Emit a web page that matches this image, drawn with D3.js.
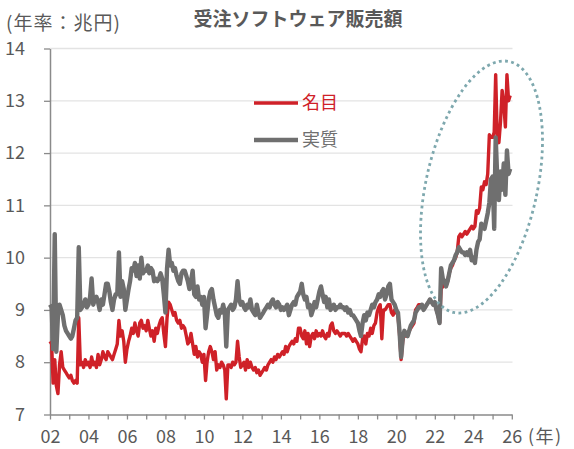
<!DOCTYPE html>
<html>
<head>
<meta charset="utf-8">
<script src="https://cdn.jsdelivr.net/npm/d3@7"></script>
<style>
  html, body { margin: 0; padding: 0; background: #fff; }
  text { font-family: "Noto Sans CJK JP", "Noto Sans", sans-serif; }
</style>
</head>
<body>
<svg width="574" height="449"></svg>
<script>
// 受注ソフトウェア販売額 (年率, 兆円), monthly from 2002-01
const startYear = 2002;

// 名目 — one row per year
const nominal = [
  8.4, 8.35, 7.6, 8.05, 7.55, 7.4, 7.95, 8.2, 7.9, 7.85, 7.8, 7.75,
  7.7, 7.75, 7.65, 7.6, 7.65, 7.6, 8.85, 7.95, 8.0, 7.9, 8.05, 7.95,
  8.0, 7.9, 8.1, 7.95, 8.0, 7.9, 8.15, 7.95, 8.05, 8.2, 8.1, 8.05,
  8.2, 8.15, 8.1, 8.05, 8.15, 8.25, 8.35, 8.8, 8.5, 8.6, 8.4, 8.0,
  8.25, 8.4, 8.5, 8.65, 8.55, 8.75, 8.6, 8.5, 8.75, 8.8, 8.65, 8.7,
  8.6, 8.8, 8.65, 8.5, 8.6, 8.4, 8.65, 8.55, 8.7, 8.8, 8.85, 8.55,
  8.3, 8.85, 9.15, 9.1, 9.0, 8.9, 8.95, 8.8, 8.75, 8.8, 8.65, 8.7,
  8.65, 8.5, 8.35, 8.4, 8.55, 8.35, 8.15, 8.3, 8.1, 8.2, 8.15, 8.0,
  8.15, 7.65, 8.0, 8.2, 8.3, 8.2, 8.05, 8.2, 7.85, 7.95, 7.9, 8.0,
  7.95, 7.85, 7.3, 7.95, 7.95, 7.9, 8.0, 7.95, 8.0, 8.4, 8.1, 7.9,
  7.95, 8.0, 7.85, 8.05, 7.9, 8.0, 7.9, 7.85, 7.9, 7.8, 7.85, 7.75,
  7.8, 7.85, 7.9, 7.85, 7.95, 8.0, 8.05, 8.0, 8.1, 8.05, 8.15, 8.1,
  8.15, 8.2, 8.15, 8.3, 8.2, 8.3, 8.35, 8.4, 8.35, 8.45, 8.4, 8.65,
  8.65, 8.5, 8.45, 8.6, 8.35, 8.55, 8.3, 8.5, 8.55, 8.45, 8.6, 8.5,
  8.55, 8.5, 8.6, 8.5, 8.45, 8.55, 8.5, 8.7, 8.75, 8.6, 8.55, 8.6,
  8.55, 8.5, 8.55, 8.55, 8.55, 8.5, 8.55, 8.5, 8.45, 8.4, 8.45, 8.4,
  8.35, 8.25, 8.2, 8.45, 8.5, 8.35, 8.55, 8.5, 8.65, 8.55, 8.7, 8.75,
  8.95, 9.05, 9.1, 8.45, 9.0, 9.0, 9.05, 9.1, 9.1, 8.95, 8.9, 9.0,
  8.95, 8.9, 8.55, 8.05, 8.4, 8.55, 8.5, 8.55, 8.6, 8.65, 8.7, 8.75,
  9.0, 9.05, 9.1, 9.1, 9.05, 9.05, 9.05, 9.1, 9.15, 9.2, 9.15, 9.1,
  9.1, 9.0, 8.9, 8.75, 9.4, 9.45, 9.5, 9.45, 9.55, 9.7, 9.8, 9.85,
  9.95, 10.0, 10.1, 10.4, 10.45, 10.4, 10.45, 10.5, 10.45, 10.5, 10.55, 10.6,
  10.55, 10.6, 10.9, 10.85, 10.95, 11.35, 11.3, 11.45, 11.4, 11.6, 12.35, 12.3,
  12.3, 12.4, 13.5, 12.25, 12.2, 12.6, 13.2, 12.95, 12.5, 13.5, 13.0, 13.1
];

// 実質 — one row per year
const real = [
  9.1, 9.05, 8.25, 10.45, 8.2, 8.9, 9.1, 9.0, 8.9, 8.7, 8.6, 8.55,
  8.5, 8.45, 8.5, 8.65, 8.8, 8.85, 10.2, 9.0, 9.05, 9.1, 9.2, 9.05,
  9.1, 9.25, 9.6, 9.1, 9.2, 9.25, 9.15, 9.0, 9.2, 9.1, 9.3, 9.5,
  9.5, 9.35, 9.15, 9.0, 9.2, 9.3, 9.3, 10.1, 9.25, 9.55, 9.4, 9.0,
  9.2, 9.4, 9.55, 9.8, 9.75, 9.9, 9.65, 9.85, 9.6, 10.0, 9.7, 9.75,
  9.75, 9.85, 9.7, 9.8, 9.75, 9.55, 9.6, 9.55, 9.6, 9.7, 9.6, 9.3,
  8.95, 9.8, 10.15, 9.85, 9.9, 9.75, 9.8, 9.65, 9.55, 9.5, 9.7, 9.75,
  9.75, 9.65, 9.55, 9.4, 9.55, 9.75, 9.3, 9.25, 9.45, 9.2, 9.25, 9.1,
  9.25, 8.65, 8.9, 9.2, 9.35, 9.4, 9.2, 9.05, 8.9, 8.85, 9.0, 8.95,
  9.1, 8.95, 8.3, 9.0, 9.05, 9.1, 9.0, 9.05, 9.2, 9.55, 9.2, 9.1,
  9.15, 9.05, 9.0, 9.1, 9.05, 9.2, 9.0, 8.95, 8.9, 9.1, 8.95, 8.85,
  8.9, 8.95, 9.0, 9.05, 9.1, 9.05, 9.15, 9.2, 9.1, 9.05, 9.15, 9.1,
  9.0, 9.05, 9.0, 9.05, 9.1, 8.9, 9.0, 9.1, 9.15, 9.1, 9.25, 9.3,
  9.35, 9.5, 9.3, 9.2, 9.25, 9.05, 9.1, 8.9, 9.0, 9.15, 9.05, 9.2,
  9.35, 9.45, 9.3, 9.15, 9.25, 9.05, 9.2, 9.0, 9.05, 9.1, 9.0, 9.05,
  9.05, 9.1, 9.05, 9.05, 9.0, 9.05, 8.95, 9.0, 8.9, 8.9, 8.85, 8.8,
  8.75, 8.6, 8.5, 8.75, 8.9, 8.8, 8.95, 8.9, 9.0, 9.1, 9.05, 9.15,
  9.2, 9.3, 9.25, 9.35, 9.4, 9.2, 9.3, 9.45, 9.5, 9.2, 9.15, 9.1,
  9.0, 8.95, 8.6, 8.1, 8.45, 8.6, 8.55, 8.5, 8.6, 8.7, 8.75, 8.8,
  8.95, 9.0, 9.05, 9.05, 9.1, 9.0, 9.05, 9.1, 9.15, 9.2, 9.15, 9.1,
  9.15, 9.0, 8.9, 8.75, 9.8, 9.6, 9.55, 9.45, 9.55, 9.7, 9.85, 9.9,
  9.95, 10.05, 10.1, 10.2, 10.15, 10.1, 10.1, 10.05, 10.1, 10.05, 10.15, 9.95,
  10.0, 9.9, 10.15, 10.3, 10.35, 10.65, 10.6, 10.55, 10.7, 10.85, 11.05, 11.5,
  11.55, 10.55, 12.3, 11.5, 11.1, 11.65, 11.3, 11.8, 11.2, 12.05, 11.6, 11.7
];

const yTicks = [7, 8, 9, 10, 11, 12, 13, 14];
const seriesNames = ['名目', '実質'];
const seriesColors = ['#cf2128', '#6f6f6f'];

const svg = d3.select('svg');
const textColor = '#595959';

// scales
const x = d3.scaleTime()
  .domain([new Date(2002, 0, 1), new Date(2026, 0, 1)])
  .range([50, 511.8]);
const y = d3.scaleLinear().domain([7, 14]).range([414.5, 48.5]);

const toPoints = (arr) => arr.map((v, i) => ({ date: new Date(startYear, i, 1), v: v }));

// gridlines
svg.append('g')
  .selectAll('line')
  .data(yTicks.slice(1))
  .enter()
  .append('line')
  .attr('x1', 50)
  .attr('x2', 512.5)
  .attr('y1', (d) => y(d))
  .attr('y2', (d) => y(d))
  .attr('stroke', '#e3e3e3')
  .attr('stroke-width', 1.3);

// y axis
const yAxis = svg.append('g')
  .attr('transform', 'translate(50,0)')
  .call(d3.axisLeft(y).tickValues(yTicks).tickSize(6).tickSizeOuter(0).tickPadding(19).tickFormat(d3.format('d')));

// x axis, a tick every year, labels on even years
const xAxis = svg.append('g')
  .attr('transform', 'translate(0,' + y(7) + ')')
  .call(d3.axisBottom(x)
    .ticks(d3.timeYear.every(1))
    .tickSize(5)
    .tickSizeOuter(0)
    .tickFormat((d) => (d.getFullYear() % 2 === 0 ? d3.timeFormat('%y')(d) : '')));

[yAxis, xAxis].forEach((g) => {
  g.select('.domain').attr('stroke', '#8a8a8a').attr('stroke-width', 1.5);
  g.selectAll('.tick line').attr('stroke', '#8a8a8a').attr('stroke-width', 1.3);
  g.selectAll('text')
    .attr('fill', textColor)
    .style('font-size', '18px')
    .style('font-family', '"Noto Sans CJK JP", sans-serif');
});
xAxis.selectAll('text').attr('y', 22).attr('dy', '0.35em');

// lines: 名目 first, 実質 drawn on top
const line = d3.line()
  .x((d) => x(d.date))
  .y((d) => y(d.v));

[nominal, real].forEach((arr, i) => {
  svg.append('path')
    .datum(toPoints(arr))
    .attr('d', line)
    .attr('fill', 'none')
    .attr('stroke', seriesColors[i])
    .attr('stroke-width', i === 0 ? 3.4 : 4.4)
    .attr('stroke-linejoin', 'round');
});

// dotted ellipse around the recent surge
svg.append('ellipse')
  .attr('cx', 0)
  .attr('cy', 0)
  .attr('rx', 55.6)
  .attr('ry', 128.5)
  .attr('transform', 'translate(481.5,187) rotate(12.5)')
  .attr('fill', 'none')
  .attr('stroke', '#7ea8ae')
  .attr('stroke-width', 2.8)
  .attr('stroke-dasharray', '2.8 3.4');

// legend
const legend = svg.append('g')
  .selectAll('g')
  .data(seriesNames)
  .enter()
  .append('g')
  .attr('transform', (d, i) => 'translate(254,' + (103 + i * 37) + ')');

legend.append('line')
  .attr('x1', 0)
  .attr('x2', 44)
  .attr('stroke', (d, i) => seriesColors[i])
  .attr('stroke-width', (d, i) => (i === 0 ? 3.4 : 4.4));

legend.append('text')
  .attr('x', 48)
  .attr('dy', '0.36em')
  .attr('fill', (d, i) => seriesColors[i])
  .style('font-size', '18px')
  .text((d) => d);

// titles and unit labels
svg.append('text')
  .attr('x', 298)
  .attr('y', 26)
  .attr('text-anchor', 'middle')
  .attr('fill', textColor)
  .style('font-size', '19px')
  .style('font-weight', 'bold')
  .text('受注ソフトウェア販売額');

svg.append('text')
  .attr('x', 6)
  .attr('y', 30)
  .attr('fill', textColor)
  .style('font-size', '19px')
  .style('letter-spacing', '1px')
  .text('(年率：兆円)');

svg.append('text')
  .attr('x', 528)
  .attr('y', 437)
  .attr('dy', '0.35em')
  .attr('fill', textColor)
  .style('font-size', '18px')
  .style('letter-spacing', '1.5px')
  .text('(年)');
</script>
</body>
</html>
